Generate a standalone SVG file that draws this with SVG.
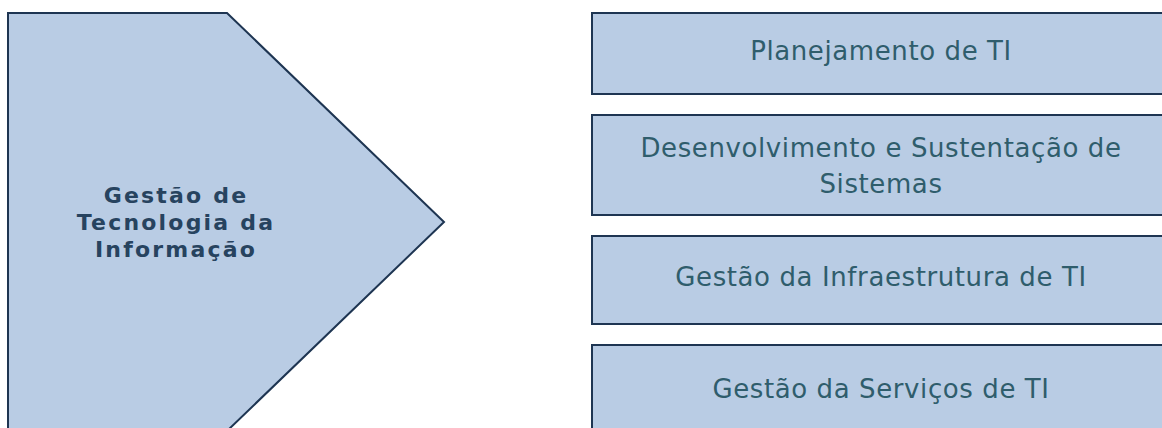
<svg xmlns="http://www.w3.org/2000/svg" width="1162" height="428" viewBox="0 0 1162 428">
<style>
.shape{fill:#b9cce4;stroke:#1e3552;stroke-width:2}
.lbl{font-family:"DejaVu Sans",Verdana,sans-serif;font-size:26px;letter-spacing:0.6px;fill:#2f5d6c;text-anchor:middle}
.main{font-family:"DejaVu Sans",Verdana,sans-serif;font-size:22px;letter-spacing:2.2px;font-weight:bold;fill:#27435f;text-anchor:middle}
</style>
<rect width="1162" height="428" fill="#ffffff"/>
<g id="connectors"></g>
<g id="node-main">
<polygon class="shape" points="8,13 227,13 444,222 227,431 8,431"/>
<text class="main" x="176" y="203">Gestão de</text>
<text class="main" x="176" y="230">Tecnologia da</text>
<text class="main" x="176" y="257">Informação</text>
</g>
<g id="node-planejamento">
<rect class="shape" x="592" y="13" width="578" height="81"/>
<text class="lbl" x="881" y="60">Planejamento de TI</text>
</g>
<g id="node-desenvolvimento">
<rect class="shape" x="592" y="115" width="578" height="100"/>
<text class="lbl" x="881" y="157">Desenvolvimento e Sustentação de</text>
<text class="lbl" x="881" y="193">Sistemas</text>
</g>
<g id="node-infraestrutura">
<rect class="shape" x="592" y="236" width="578" height="88"/>
<text class="lbl" x="881" y="286">Gestão da Infraestrutura de TI</text>
</g>
<g id="node-servicos">
<rect class="shape" x="592" y="345" width="578" height="100"/>
<text class="lbl" x="881" y="398">Gestão da Serviços de TI</text>
</g>
</svg>
